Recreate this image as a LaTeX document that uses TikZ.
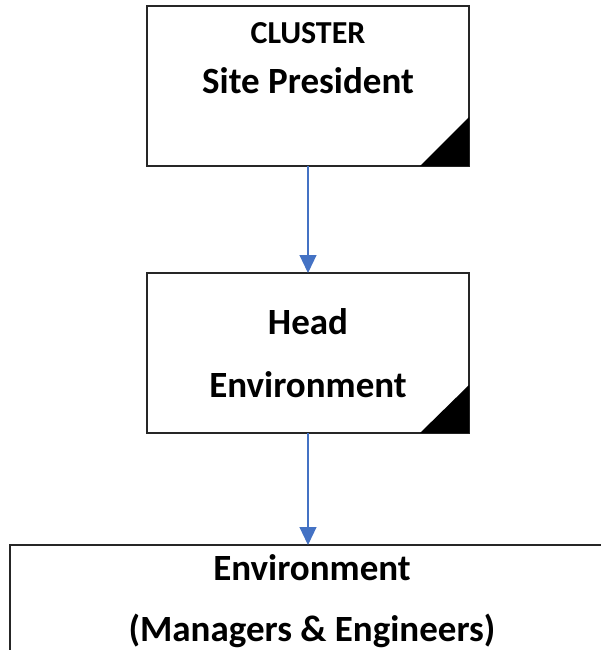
\documentclass[tikz,border=0pt]{standalone}
\usepackage{fontspec}
\setmainfont{Carlito}
\usetikzlibrary{arrows.meta}
\definecolor{arrowblue}{HTML}{4472C4}
\begin{document}
\begin{tikzpicture}[x=1pt,y=-1pt,
  box/.style={draw=black!85,line width=1.2pt,fill=white},
  corner/.style={fill=black},
  lbl/.style={font=\bfseries,text=black,inner sep=0pt,anchor=center},
  big/.style={lbl,font=\bfseries\fontsize{37}{40}\selectfont},
  conn/.style={draw=arrowblue,line width=1.2pt,-{Triangle[length=18pt,width=17pt]}}]
\useasboundingbox (0,0) rectangle (600,650);
% box 1
\draw[box] (147,6) rectangle (469,166);
\coordinate (b1s) at (308,166);
\fill[corner] (420,166) -- (469,117) -- (469,166) -- cycle;
\node[lbl,font=\bfseries\fontsize{32}{36}\selectfont] (t1a) at (308,33) {CLUSTER};
\node[big] (t1b) at (308,81) {Site President};
% box 2
\draw[box] (147,273) rectangle (469,433);
\coordinate (b2n) at (308,273);
\coordinate (b2s) at (308,433);
\fill[corner] (420,433) -- (469,385) -- (469,433) -- cycle;
\node[big] (t2a) at (308,322) {Head};
\node[big] (t2b) at (308,385) {Environment};
% box 3
\draw[box] (10,660) -- (10,545) -- (614,545) -- (614,660);
\coordinate (b3n) at (308,545);
\node[big] (t3a) at (312,568) {Environment};
\node[big] (t3b) at (312,631) {(Managers \& Engineers)};
% connectors
\draw[conn] (b1s) -- (b2n);
\draw[conn] (b2s) -- (b3n);
\end{tikzpicture}
\end{document}
